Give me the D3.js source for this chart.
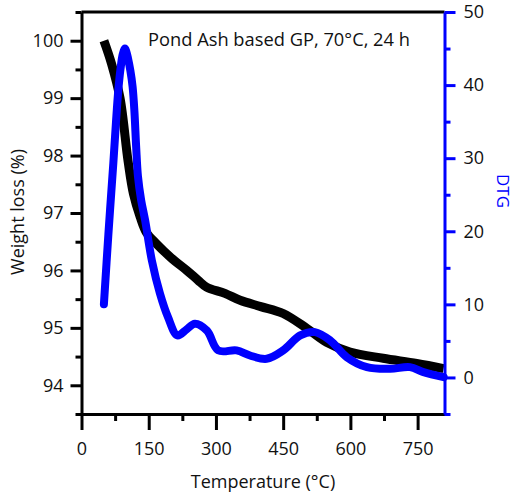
<!DOCTYPE html>
<html>
<head>
<meta charset="utf-8">
<script src="https://cdn.jsdelivr.net/npm/d3@7"></script>
<style>
  html, body { margin: 0; padding: 0; background: #fff; }
  svg { display: block; }
  text { font-family: "Open Sans", "Noto Sans", sans-serif; }
</style>
</head>
<body>
<svg id="chart" width="514" height="498"></svg>
<script>
// ---- data ----
const tgaTemp = [50, 67, 86, 104, 116, 131, 145, 168, 200, 235, 260, 279, 320, 354, 400, 450, 503, 547, 599, 673, 748, 808];
const tgaWeight = [100.0, 99.6, 99.0, 97.9, 97.33, 96.93, 96.66, 96.46, 96.22, 96.0, 95.83, 95.71, 95.6, 95.48, 95.37, 95.25, 94.99, 94.75, 94.58, 94.47, 94.38, 94.29];

const dtgTemp = [50, 60, 71, 77, 82, 87, 92, 97, 100, 104, 109, 114, 118, 122, 126, 133, 142, 157, 175, 193, 214, 235, 253, 280, 305, 346, 376, 413, 450, 488, 521, 555, 592, 637, 689, 733, 763, 808];
const dtgValue = [10, 19.6, 29.3, 35, 39.2, 42.2, 44.2, 45, 44.6, 43.6, 42.0, 39.8, 36.5, 31.5, 27.5, 24.3, 21.5, 16, 11.5, 8.25, 5.75, 6.6, 7.35, 6.4, 3.7, 3.7, 3.0, 2.55, 3.7, 5.75, 6.2, 5.06, 2.78, 1.41, 1.19, 1.41, 0.73, 0.04];

const xMajorTicks = [0, 150, 300, 450, 600, 750];
const xMinorTicks = [75, 225, 375, 525, 675];
const leftMajorTicks = [94, 95, 96, 97, 98, 99, 100];
const leftMinorTicks = [93.5, 94.5, 95.5, 96.5, 97.5, 98.5, 99.5, 100.5];
const rightMajorTicks = [0, 10, 20, 30, 40, 50];
const rightMinorTicks = [-5, 5, 15, 25, 35, 45];

const titleText = "Pond Ash based GP, 70°C, 24 h";
const xLabel = "Temperature (°C)";
const leftLabel = "Weight loss (%)";
const rightLabel = "DTG";

// ---- layout ----
const L = 81.5, R = 444.5, T = 12, B = 414;
const BLUE = "#0000ff";

const svg = d3.select("#chart");

const x = d3.scaleLinear().domain([0, 810]).range([L, R]);
const yL = d3.scaleLinear().domain([93.5, 100.5]).range([B, T]);
const yR = d3.scaleLinear().domain([-5, 50]).range([B, T]);

// ---- curves ----
const tga = tgaTemp.map((t, i) => [t, tgaWeight[i]]);
const dtg = dtgTemp.map((t, i) => [t, dtgValue[i]]);

svg.append("path")
  .datum(tga)
  .attr("fill", "none")
  .attr("stroke", "#000")
  .attr("stroke-width", 9)
  .attr("stroke-linejoin", "round")
  .attr("d", d3.line().x(d => x(d[0])).y(d => yL(d[1])).curve(d3.curveCatmullRom.alpha(0.5)));

svg.append("path")
  .datum(dtg)
  .attr("fill", "none")
  .attr("stroke", BLUE)
  .attr("stroke-width", 8)
  .attr("stroke-linejoin", "round")
  .attr("stroke-linecap", "round")
  .attr("d", d3.line().x(d => x(d[0])).y(d => yR(d[1])).curve(d3.curveCatmullRom.alpha(0.5)));

// ---- axes ----
function styleAxis(g, color, width) {
  g.select(".domain").attr("stroke", color).attr("stroke-width", width);
  g.selectAll(".tick line").attr("stroke", color).attr("stroke-width", 3);
  g.selectAll(".tick text").attr("fill", "#111").attr("font-size", 18);
}

// top border
svg.append("line")
  .attr("x1", L).attr("x2", R).attr("y1", T).attr("y2", T)
  .attr("stroke", "#000").attr("stroke-width", 3);

// bottom axis
const gxMinor = svg.append("g").attr("transform", `translate(0,${B})`)
  .call(d3.axisBottom(x).tickValues(xMinorTicks).tickSize(7).tickFormat(""));
styleAxis(gxMinor, "#000", 3);
const gx = svg.append("g").attr("transform", `translate(0,${B})`)
  .call(d3.axisBottom(x).tickValues(xMajorTicks).tickSize(16).tickPadding(12).tickSizeOuter(0).tickFormat(d3.format("d")));
styleAxis(gx, "#000", 3);

// left axis
const gyMinor = svg.append("g").attr("transform", `translate(${L},0)`)
  .call(d3.axisLeft(yL).tickValues(leftMinorTicks).tickSize(6).tickFormat(""));
styleAxis(gyMinor, "#000", 3);
const gy = svg.append("g").attr("transform", `translate(${L},0)`)
  .call(d3.axisLeft(yL).tickValues(leftMajorTicks).tickSize(11).tickPadding(7).tickSizeOuter(0).tickFormat(d3.format("d")));
styleAxis(gy, "#000", 3);

// right axis
const grMinor = svg.append("g").attr("transform", `translate(${R},0)`)
  .call(d3.axisRight(yR).tickValues(rightMinorTicks).tickSize(6).tickFormat(""));
styleAxis(grMinor, BLUE, 3);
const gr = svg.append("g").attr("transform", `translate(${R},0)`)
  .call(d3.axisRight(yR).tickValues(rightMajorTicks).tickSize(11).tickPadding(8).tickSizeOuter(0).tickFormat(d3.format("d")));
styleAxis(gr, BLUE, 3);

[gxMinor, gyMinor, grMinor].forEach(g => g.select(".domain").attr("d", null));

// ---- labels ----
svg.append("text")
  .attr("x", 148).attr("y", 46)
  .attr("font-size", 18.3).attr("fill", "#111")
  .text(titleText);

svg.append("text")
  .attr("x", (L + R) / 2).attr("y", 488)
  .attr("text-anchor", "middle")
  .attr("font-size", 18).attr("fill", "#111")
  .text(xLabel);

svg.append("text")
  .attr("transform", `translate(24,212) rotate(-90)`)
  .attr("text-anchor", "middle")
  .attr("font-size", 18).attr("fill", "#111")
  .text(leftLabel);

svg.append("text")
  .attr("transform", `translate(497,191) rotate(90)`)
  .attr("text-anchor", "middle")
  .attr("font-size", 17).attr("fill", BLUE)
  .text(rightLabel);
</script>
</body>
</html>
